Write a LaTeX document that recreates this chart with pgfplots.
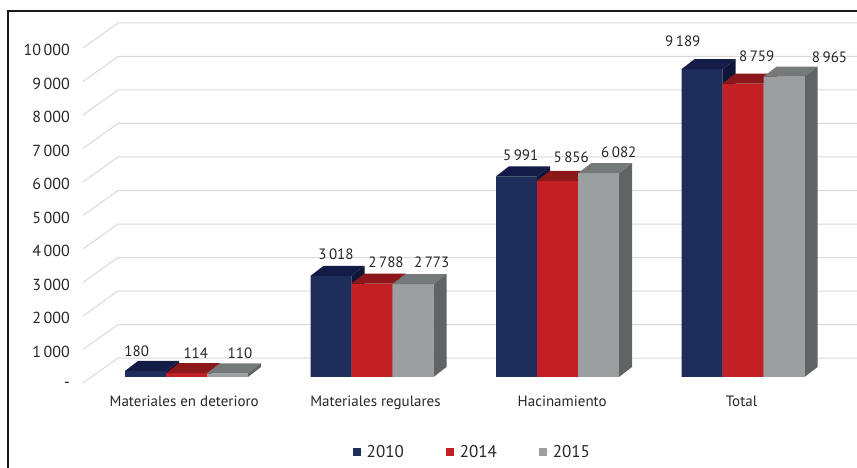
\documentclass[border=0pt]{standalone}
\usepackage{fontspec}
\setmainfont{PT Sans}
\usepackage{pgfplots}
\pgfplotsset{compat=1.18}
\definecolor{c1f}{HTML}{1F2D5B}
\definecolor{c1t}{HTML}{131C47}
\definecolor{c1s}{HTML}{0F1738}
\definecolor{c2f}{HTML}{C32026}
\definecolor{c2t}{HTML}{8C181C}
\definecolor{c2s}{HTML}{6E1216}
\definecolor{c3f}{HTML}{9C9FA0}
\definecolor{c3t}{HTML}{76797A}
\definecolor{c3s}{HTML}{616465}
\definecolor{gridc}{HTML}{D9D9D9}
\definecolor{txt}{HTML}{262626}
% top and side faces of a bar: #1 centre x, #2 value, #3 top colour, #4 side colour
\newcommand{\barfaces}[4]{%
  \pgfmathsetmacro\xl{#1-0.110512}%
  \pgfmathsetmacro\xr{#1+0.110512}%
  \pgfmathsetmacro\xlb{#1-0.110512+0.07008}%
  \pgfmathsetmacro\xrb{#1+0.110512+0.07008}%
  \pgfmathsetmacro\vb{#2+298.5}%
  \edef\tmp{\noexpand\addplot[forget plot,fill=#3,draw=none] coordinates {(\xl,#2) (\xr,#2) (\xrb,\vb) (\xlb,\vb)};
  \noexpand\addplot[forget plot,fill=#4,draw=none] coordinates {(\xr,0) (\xr,#2) (\xrb,\vb) (\xrb,298.5)};}%
  \tmp}
\newcommand{\gridl}[1]{%
  \pgfmathsetmacro\ya{#1-179}\pgfmathsetmacro\yb{#1+567}%
  \edef\tmp{\noexpand\addplot[forget plot,gridc,line width=1pt] coordinates {(-0.55795,\ya) (-0.36927,\yb) (3.61456,\yb)};}%
  \tmp}
\pgfplotsset{legimg/.style={legend image code/.code={\fill[##1,draw=none] (0pt,-4pt) rectangle (8pt,4pt);\path (0pt,0pt) -- (12pt,0pt);}}}
\begin{document}
\begin{tikzpicture}
\useasboundingbox (0,0) rectangle (857pt,468pt);
\begin{axis}[
  at={(83pt,0pt)}, anchor=south west,
  width=774pt, height=468pt, scale only axis,
  xmin=-0.55795, xmax=3.61456, ymin=-2716.4, ymax=11253.7,
  clip=false,
  scaled y ticks=false, scaled x ticks=false,
  axis line style={draw=none},
  major tick style={draw=none},
  /pgf/number format/assume math mode=true,
  ytick={-239,761,1761,2761,3761,4761,5761,6761,7761,8761,9761},
  yticklabels={-\hspace{13pt},1\,000,2\,000,3\,000,4\,000,5\,000,6\,000,7\,000,8\,000,9\,000,10\,000},
  yticklabel style={anchor=east, inner sep=0pt, xshift=-13pt, font=\fontsize{16}{19}\selectfont, text=txt},
  xtick={-0.0124,1.0189,2.0253,2.9919},
  xticklabels={Materiales en deterioro,Materiales regulares,Hacinamiento,Total},
  xticklabel style={anchor=base, inner sep=0pt, yshift=61pt, font=\fontsize{15}{18}\selectfont, text=txt},
  legend style={at={(0.503,0.0342)}, anchor=center, draw=none, fill=none,
    legend columns=3, font=\fontsize{17}{20}\selectfont, text=txt,
    /tikz/every even column/.append style={column sep=40pt}},
]
\gridl{0}\gridl{1000}\gridl{2000}\gridl{3000}\gridl{4000}\gridl{5000}
\gridl{6000}\gridl{7000}\gridl{8000}\gridl{9000}\gridl{10000}
% 2010
\addplot[ybar, bar width=41pt, bar shift=-41pt, fill=c1f, draw=none, legimg]
  coordinates {(0,180) (1,3018) (2,5991) (3,9189)};
\addlegendentry{2010}
\barfaces{-0.221024}{180}{c1t}{c1s}
\barfaces{0.778976}{3018}{c1t}{c1s}
\barfaces{1.778976}{5991}{c1t}{c1s}
\barfaces{2.778976}{9189}{c1t}{c1s}
% 2014
\addplot[ybar, bar width=41pt, bar shift=0pt, fill=c2f, draw=none, legimg]
  coordinates {(0,114) (1,2788) (2,5856) (3,8759)};
\addlegendentry{2014}
\barfaces{0}{114}{c2t}{c2s}
\barfaces{1}{2788}{c2t}{c2s}
\barfaces{2}{5856}{c2t}{c2s}
\barfaces{3}{8759}{c2t}{c2s}
% 2015
\addplot[ybar, bar width=41pt, bar shift=41pt, fill=c3f, draw=none, legimg]
  coordinates {(0,110) (1,2773) (2,6082) (3,8965)};
\addlegendentry{2015}
\barfaces{0.221024}{110}{c3t}{c3s}
\barfaces{1.221024}{2773}{c3t}{c3s}
\barfaces{2.221024}{6082}{c3t}{c3s}
\barfaces{3.221024}{8965}{c3t}{c3s}
% value labels
\addplot[forget plot, draw=none, mark=none, nodes near coords, point meta=explicit symbolic,
  nodes near coords align=center,
  every node near coord/.append style={anchor=center, inner sep=0pt, font=\fontsize{15}{18}\selectfont, text=txt}]
  coordinates {
  (-0.2685,755) [180] (0.0501,716) [114] (0.2884,716) [110]
  (0.8059,3663) [3\,018] (1.0755,3412) [2\,788] (1.3218,3412) [2\,773]
  (1.8016,6606) [5\,991] (2.0739,6558) [5\,856] (2.3305,6707) [6\,082]
  (2.6755,10030) [9\,189] (3.0739,9582) [8\,759] (3.4663,9543) [8\,965]
  };
\end{axis}
\draw[line width=1.2pt, black!90] (8pt,0pt) -- (8pt,457pt) -- (857pt,457pt);
\end{tikzpicture}
\end{document}
